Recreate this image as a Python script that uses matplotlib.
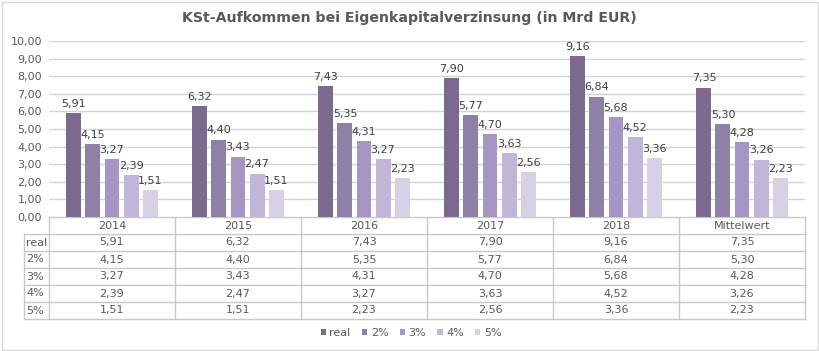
import matplotlib
matplotlib.use("Agg")
import matplotlib.pyplot as plt
from matplotlib.patches import Rectangle
import numpy as np

categories = ["2014", "2015", "2016", "2017", "2018", "Mittelwert"]
series_names = ["real", "2%", "3%", "4%", "5%"]
real = [5.91, 6.32, 7.43, 7.90, 9.16, 7.35]
p2 = [4.15, 4.40, 5.35, 5.77, 6.84, 5.30]
p3 = [3.27, 3.43, 4.31, 4.70, 5.68, 4.28]
p4 = [2.39, 2.47, 3.27, 3.63, 4.52, 3.26]
p5 = [1.51, 1.51, 2.23, 2.56, 3.36, 2.23]
series = [real, p2, p3, p4, p5]
colors = ["#7a6a8e", "#8f80a8", "#a495c3", "#c0b6d7", "#d6d1e4"]
yticks = [0, 1, 2, 3, 4, 5, 6, 7, 8, 9, 10]

def fmt(v):
    return f"{v:.2f}".replace(".", ",")

W, H = 819, 351
fig = plt.figure(figsize=(W / 100, H / 100), dpi=100)
fig.patch.set_facecolor("white")

def fx(px):
    return px / W

def fy(py):
    return 1 - py / H

left_px, right_px, top_px, zero_px = 49, 805, 41, 217
ax = fig.add_axes([fx(left_px), fy(zero_px), fx(right_px - left_px), fy(top_px) - fy(zero_px)])
n = len(categories)
x = np.arange(n)
pitch = 0.151
bw = 0.119
for i, (name, vals, c) in enumerate(zip(series_names, series, colors)):
    xs = x + (i - 2) * pitch
    ax.bar(xs, vals, width=bw, color=c, zorder=3, label=name)
for i, vals in enumerate(series):
    xs = x + (i - 2) * pitch
    for xx, v in zip(xs, vals):
        ax.annotate(fmt(v), (xx, v), xytext=(0, 3), textcoords="offset points",
                    ha="center", va="bottom", fontsize=8, color="#404040", zorder=5)

ax.set_xlim(-0.5, n - 0.5)
ax.set_ylim(0, 10)
ax.set_yticks(yticks)
ax.set_yticklabels([fmt(t) for t in yticks], fontsize=8, color="#595959")
ax.tick_params(axis="y", length=0, pad=5)
ax.set_xticks([])
ax.grid(axis="y", color="#d3d3d3", linewidth=1, zorder=0)
for s in ax.spines.values():
    s.set_visible(False)

# table
tab_top, header_h, row_h = 217, 16.5, 17.0
label_left = 24
line_c = "#c8c8c8"
tax = fig.add_axes([0, 0, 1, 1], zorder=-1)
tax.set_xlim(0, W)
tax.set_ylim(H, 0)
tax.axis("off")
col_w = (right_px - left_px) / n
bottom_px = tab_top + header_h + row_h * len(series)
tax.plot([left_px, right_px], [tab_top, tab_top], color=line_c, lw=1)
for r in range(len(series) + 1):
    yy = tab_top + header_h + r * row_h
    tax.plot([label_left, right_px], [yy, yy], color=line_c, lw=1)
for c in range(n + 1):
    xx = left_px + c * col_w
    tax.plot([xx, xx], [tab_top, bottom_px], color=line_c, lw=1)
tax.plot([label_left, label_left], [tab_top + header_h, bottom_px], color=line_c, lw=1)
for c, cat in enumerate(categories):
    tax.text(left_px + (c + 0.5) * col_w, tab_top + header_h / 2 + 0.5, cat,
             ha="center", va="center", fontsize=8, color="#595959")
for r, (name, vals) in enumerate(zip(series_names, series)):
    yc = tab_top + header_h + (r + 0.5) * row_h + 0.5
    tax.text(label_left + 2, yc, name, ha="left", va="center", fontsize=8, color="#595959")
    for c, v in enumerate(vals):
        tax.text(left_px + (c + 0.5) * col_w, yc, fmt(v), ha="center", va="center",
                 fontsize=8, color="#595959")

fig.patches.append(Rectangle((fx(1.5), fy(349.5)), fx(W - 3), fy(1.5) - fy(349.5),
                             transform=fig.transFigure, fill=False,
                             edgecolor="#d9d9d9", lw=1))

fig.text(0.5, fy(18), "KSt-Aufkommen bei Eigenkapitalverzinsung (in Mrd EUR)",
         ha="center", va="center", fontsize=10.2, fontweight="bold", color="#595959")

handles, labels = ax.get_legend_handles_labels()
leg = fig.legend(handles, labels, loc="center", bbox_to_anchor=(fx(411), fy(333)),
                 ncol=5, frameon=False, fontsize=8, handlelength=0.5, handleheight=0.5,
                 handletextpad=0.3, columnspacing=1.0, labelcolor="#595959")

fig.savefig("out.png", dpi=100, facecolor="white")
